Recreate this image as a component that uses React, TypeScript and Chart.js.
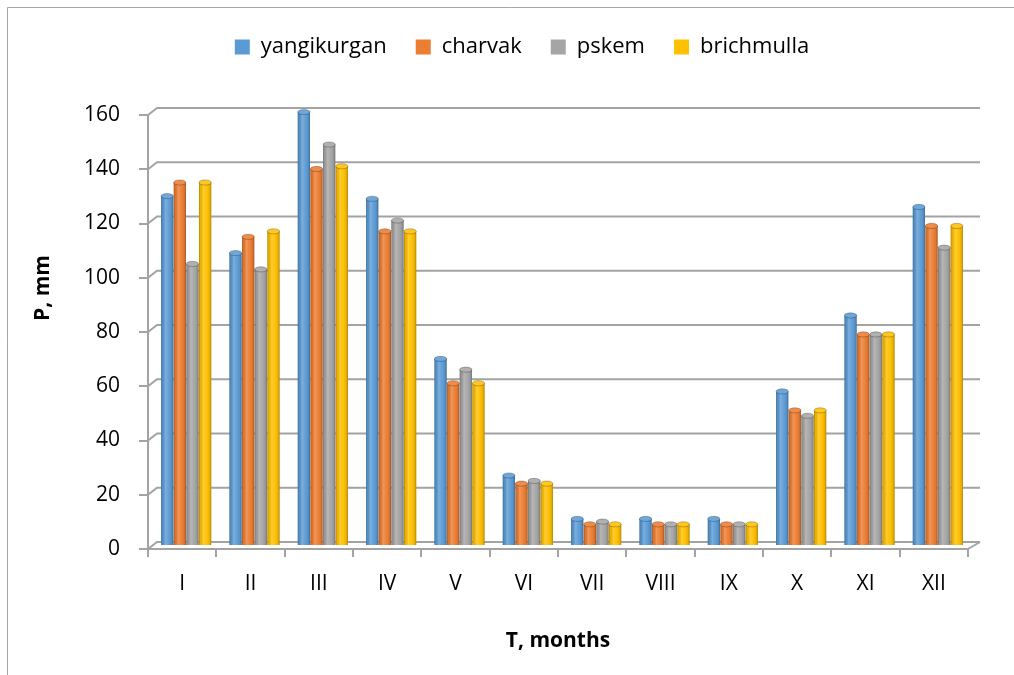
import React, { useEffect, useRef } from "react";
import { Chart, registerables } from "chart.js";

Chart.register(...registerables);

const months = ["I", "II", "III", "IV", "V", "VI", "VII", "VIII", "IX", "X", "XI", "XII"];
const seriesNames = ["yangikurgan", "charvak", "pskem", "brichmulla"];
const seriesColors = ["#5B9BD5", "#ED7D31", "#A5A5A5", "#FFC000"];
const yangikurgan = [129, 108, 160, 128, 69, 26, 10, 10, 10, 57, 85, 125];
const charvak = [134, 114, 139, 116, 60, 23, 8, 8, 8, 50, 78, 118];
const pskem = [104, 102, 148, 120, 65, 24, 9, 8, 8, 48, 78, 110];
const brichmulla = [134, 116, 140, 116, 60, 23, 8, 8, 8, 50, 78, 118];
const yMin = 0;
const yMax = 160;
const yStep = 20;
const xTitle = "T, months";
const yTitle = "P, mm";

const FONT = "'Open Sans', 'Noto Sans', sans-serif";
const GRID = "#a3a3a3";

export default function App() {
  const ref = useRef<HTMLCanvasElement | null>(null);

  useEffect(() => {
    document.body.style.margin = "0";
    const canvas = ref.current;
    if (!canvas) return;

    const DX = 9;
    const DY = -7;
    const SHIFT_X = 4;
    const SHIFT_Y = -3;
    const LEGEND_SHIFT = 24;

    const decor = {
      id: "decor",
      afterInit(chart: any) {
        const lg = chart.legend;
        if (lg) {
          const f = lg.fit.bind(lg);
          lg.fit = () => {
            f();
            lg.height += 47;
          };
        }
      },
      afterLayout(chart: any) {
        const lg = chart.legend;
        if (lg) {
          lg.left += LEGEND_SHIFT;
          lg.right += LEGEND_SHIFT;
        }
      },
      beforeDraw(chart: any) {
        const { ctx, width, height } = chart;
        ctx.save();
        ctx.fillStyle = "#fff";
        ctx.fillRect(0, 0, width, height);
        ctx.strokeStyle = "#a6a6a6";
        ctx.lineWidth = 1;
        ctx.beginPath();
        ctx.moveTo(7.5, height);
        ctx.lineTo(7.5, 7.5);
        ctx.lineTo(width, 7.5);
        ctx.stroke();
        ctx.restore();
      },
      beforeDatasetsDraw(chart: any) {
        const { ctx, chartArea } = chart;
        const ys = chart.scales.y;
        ctx.save();
        ctx.strokeStyle = GRID;
        ctx.lineWidth = 2;
        ys.ticks.forEach((t: any) => {
          const py = ys.getPixelForValue(t.value);
          ctx.beginPath();
          ctx.moveTo(chartArea.left, py);
          ctx.lineTo(chartArea.left + DX, py + DY);
          ctx.lineTo(chartArea.right + DX + 3, py + DY);
          ctx.stroke();
        });
        const p0 = ys.getPixelForValue(0);
        ctx.beginPath();
        ctx.moveTo(chartArea.right, p0);
        ctx.lineTo(chartArea.right + DX + 3, p0 + DY);
        ctx.stroke();
        ctx.restore();
        ctx.save();
        ctx.translate(SHIFT_X, SHIFT_Y);
      },
      afterDatasetsDraw(chart: any) {
        const { ctx } = chart;
        chart.getSortedVisibleDatasetMetas().forEach((meta: any) => {
          const color = seriesColors[meta.index];
          meta.data.forEach((el: any) => {
            const { x, y, base, width } = el.getProps(["x", "y", "base", "width"], true);
            const l = x - width / 2;
            const r = x + width / 2;
            const g = ctx.createLinearGradient(l, 0, r, 0);
            g.addColorStop(0, "rgba(0,0,0,0.30)");
            g.addColorStop(0.12, "rgba(0,0,0,0.08)");
            g.addColorStop(0.35, "rgba(255,255,255,0.20)");
            g.addColorStop(0.6, "rgba(255,255,255,0.05)");
            g.addColorStop(0.88, "rgba(0,0,0,0.10)");
            g.addColorStop(1, "rgba(0,0,0,0.32)");
            ctx.fillStyle = g;
            ctx.fillRect(l, y, width, base - y);
            ctx.beginPath();
            ctx.ellipse(x, y, width / 2, 2.6, 0, 0, Math.PI * 2);
            ctx.fillStyle = color;
            ctx.fill();
            ctx.fillStyle = "rgba(255,255,255,0.12)";
            ctx.fill();
            ctx.strokeStyle = "rgba(0,0,0,0.3)";
            ctx.lineWidth = 0.8;
            ctx.stroke();
          });
        });
        ctx.restore();
      },
      afterDraw(chart: any) {
        const { ctx, chartArea } = chart;
        const ys = chart.scales.y;
        ctx.save();
        ctx.font = `bold 21px ${FONT}`;
        ctx.fillStyle = "#000";
        ctx.textAlign = "center";
        ctx.textBaseline = "middle";
        ctx.translate(ys.left + 15, (chartArea.top + chartArea.bottom) / 2 - 44);
        ctx.rotate(-Math.PI / 2);
        ctx.fillText(yTitle, 0, 0);
        ctx.restore();
      },
    };

    const seriesValues = [yangikurgan, charvak, pskem, brichmulla];

    const chart = new Chart(canvas, {
      type: "bar",
      data: {
        labels: months,
        datasets: seriesNames.map((name, i) => ({
          label: name,
          data: seriesValues[i],
          backgroundColor: seriesColors[i],
          borderWidth: 0,
          categoryPercentage: 0.74,
          barPercentage: 0.97,
        })),
      },
      options: {
        responsive: false,
        animation: false,
        layout: { padding: { top: 7, left: 28, right: 46, bottom: 0 } },
        plugins: {
          legend: {
            position: "top",
            labels: {
              color: "#000",
              font: { family: FONT, size: 22 },
              boxWidth: 15,
              boxHeight: 15,
              padding: 29,
            },
          },
          tooltip: { enabled: false },
        },
        scales: {
          x: {
            grid: {
              drawOnChartArea: false,
              drawTicks: true,
              tickLength: 8,
              color: GRID,
              lineWidth: 2,
            },
            border: { display: true, color: GRID, width: 2 },
            ticks: {
              color: "#000",
              font: { family: FONT, size: 21 },
              padding: 14,
              maxRotation: 0,
            },
            title: {
              display: true,
              text: xTitle,
              color: "#000",
              font: { family: FONT, size: 21, weight: "bold" },
              padding: { top: 4, bottom: 21 },
            },
            afterFit(scale: any) {
              scale.height = 126;
            },
          },
          y: {
            min: yMin,
            max: yMax,
            grid: {
              drawOnChartArea: false,
              drawTicks: true,
              tickLength: 9,
              color: GRID,
              lineWidth: 2,
            },
            border: { display: true, color: GRID, width: 2 },
            ticks: {
              stepSize: yStep,
              color: "#000",
              font: { family: FONT, size: 21 },
              padding: 19,
            },
            title: { display: false },
            afterFit(scale: any) {
              scale.width = 120;
            },
          },
        },
      },
      plugins: [decor],
    });

    return () => chart.destroy();
  }, []);

  return (
    <div style={{ width: 1014, height: 675 }}>
      <canvas ref={ref} width={1014} height={675} />
    </div>
  );
}
